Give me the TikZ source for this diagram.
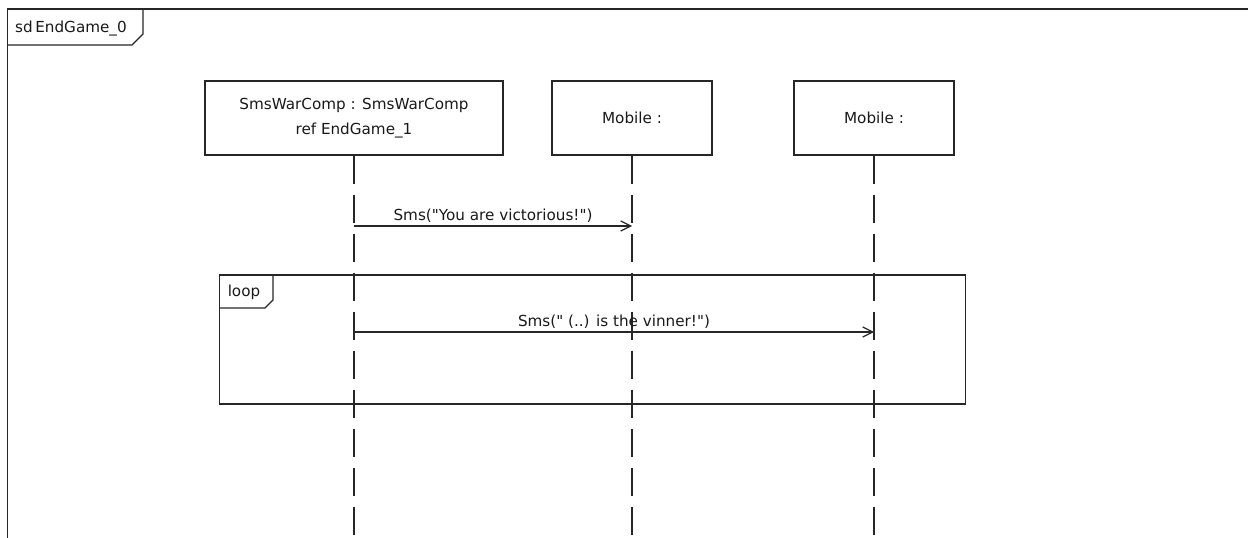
\documentclass[tikz,border=0pt]{standalone}
\usepackage{fontspec}
\setmainfont{DejaVu Sans}[Ligatures=TeXOff]
\usetikzlibrary{arrows.meta,calc}
\begin{document}
\begin{tikzpicture}[x=1pt,y=-1pt,
  every node/.style={font=\fontsize{15.2}{24.5}\selectfont, text=black!90},
  frameline/.style={draw=black!85, line width=1.2pt, line join=miter},
  lifebox/.style={draw=black!85, line width=1.2pt, minimum height=74pt, inner sep=0pt, align=center},
  lifeline/.style={draw=black!85, line width=1.2pt, dash pattern=on 28pt off 11pt},
  msg/.style={draw=black!85, line width=1.2pt, -{Straight Barb[length=10pt,width=10pt,line width=1.2pt]}},
  msglabel/.style={midway, above, inner sep=3pt}
]
\useasboundingbox (0,0) rectangle (1248,538);

% outer interaction frame with its "sd" tab
\draw[frameline] (7.5,538) -- (7.5,9) -- (1248,9);
\draw[frameline] (7.5,45) -- (132,45) -- (143,34) -- (143,9);
\node (sdlabel) at (71,29) {sd\,EndGame\_0};

% participants
\node[lifebox, minimum width=298pt] (comp) at (354,118) {SmsWarComp : SmsWarComp\\ref EndGame\_1};
\node[lifebox, minimum width=160pt] (mob1) at (632,118) {Mobile :};
\node[lifebox, minimum width=160pt] (mob2) at (874,118) {Mobile :};

% lifelines
\coordinate (compend) at (comp.south |- 0,538);
\coordinate (mob1end) at (mob1.south |- 0,538);
\coordinate (mob2end) at (mob2.south |- 0,538);
\draw[lifeline] (comp.south) -- (compend);
\draw[lifeline] (mob1.south) -- (mob1end);
\draw[lifeline] (mob2.south) -- (mob2end);

% first message
\coordinate (m1from) at (comp.south |- 0,226);
\coordinate (m1to) at (mob1.south |- 0,226);
\draw[msg] (m1from) -- (m1to) node[msglabel] (m1label) {Sms("You are victorious!")};

% loop combined fragment
\coordinate (loopnw) at (219.5,275);
\coordinate (loopse) at (965.5,404);
\draw[frameline] (loopnw) rectangle (loopse);
\draw[frameline] (219.5,308) -- (265,308) -- (273,300) -- (273,275);
\node (looplabel) at (244,292) {loop};

% message repeated inside the loop
\coordinate (m2from) at (comp.south |- 0,332);
\coordinate (m2to) at (mob2.south |- 0,332);
\draw[msg] (m2from) -- (m2to) node[msglabel] (m2label) {Sms(" (..) is the vinner!")};
\end{tikzpicture}
\end{document}
